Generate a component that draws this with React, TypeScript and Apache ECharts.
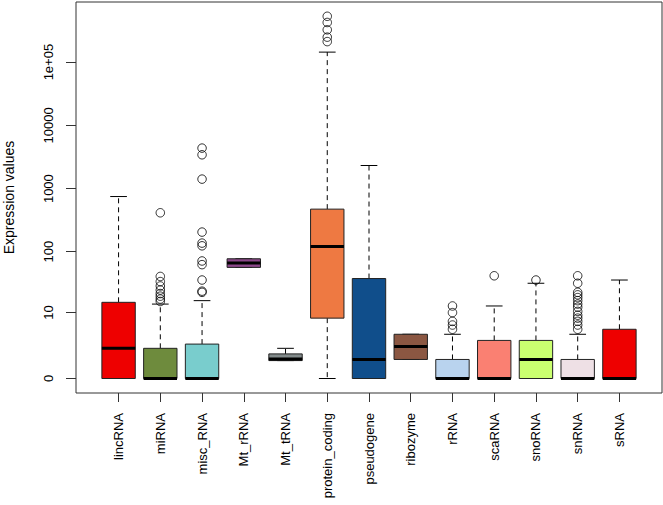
import React, { useEffect, useRef } from "react";
import * as echarts from "echarts";

// Gene biotypes (x categories)
const categories = [
  "lincRNA", "miRNA", "misc_RNA", "Mt_rRNA", "Mt_tRNA", "protein_coding",
  "pseudogene", "ribozyme", "rRNA", "scaRNA", "snoRNA", "snRNA", "sRNA",
];

// Box colours
const boxColors = [
  "#EE0000", "#6E8B3D", "#79CDCD", "#8B4789", "#838B8B", "#EE7942",
  "#104E8B", "#8B5742", "#B9D3EE", "#FA8072", "#CAFF70", "#EEE0E5", "#EE0000",
];

// Expression values: [lower whisker, Q1, median, Q3, upper whisker]
const lowWhisker = [0, 0, 0, 56, 0.92, 0, 0, 1, 0, 0, 0, 0, 0];
const q1Values = [0, 0, 0, 56, 0.92, 8, 0, 1, 0, 0, 0, 0, 0];
const medianValues = [2, 0, 0, 66, 1.03, 121, 1, 2.2, 0, 0, 1, 0, 0];
const q3Values = [15, 2, 2.5, 77, 1.45, 474, 37, 4, 1, 3, 3, 1, 5];
const highWhisker = [750, 14, 16, 77, 2, 143900, 2322, 4, 4, 13, 31, 4, 35];

// Outliers per category
const outlierValues: number[][] = [
  [],
  [15.5, 17, 19, 21, 24, 28, 33, 40, 415],
  [22, 23, 35, 62, 71, 124, 137, 205, 1415, 3430, 4375],
  [],
  [],
  [211000, 248000, 324000, 423000, 530000],
  [],
  [],
  [5, 6, 7, 10, 13],
  [41],
  [35],
  [5, 6, 7, 8, 9, 10.5, 12.4, 14, 16, 18, 20, 22, 31, 41],
  [],
];

// Y-axis ticks (expression values)
const yTickValues = [0, 10, 100, 1000, 10000, 100000];
const yTickLabels = ["0", "10", "100", "1000", "10000", "1e+05"];

const tf = (v: number) => Math.log10(v + 1);

const FONT = "'Liberation Sans', Arial, Helvetica, sans-serif";

export default function App() {
  const ref = useRef<HTMLDivElement>(null);

  useEffect(() => {
    document.body.style.margin = "0";
    if (!ref.current) return;
    const chart = echarts.init(ref.current, undefined, { renderer: "svg" });

    const boxData = categories.map((_, i) => [
      i,
      tf(lowWhisker[i]),
      tf(q1Values[i]),
      tf(medianValues[i]),
      tf(q3Values[i]),
      tf(highWhisker[i]),
    ]);
    const outlierData: number[][] = [];
    outlierValues.forEach((arr, i) => arr.forEach((v) => outlierData.push([i, tf(v)])));

    const yTicksT = yTickValues.map(tf);

    const option: any = {
      animation: false,
      backgroundColor: "#ffffff",
      textStyle: { fontFamily: FONT },
      grid: {
        left: 76,
        right: 1,
        top: 2,
        bottom: 112,
        containLabel: false,
        outerBoundsMode: "none",
        show: true,
        borderColor: "#333",
        borderWidth: 1,
        backgroundColor: "transparent",
      },
      xAxis: {
        type: "value",
        min: -1.02,
        max: 13.02,
        splitLine: { show: false },
        axisLine: { show: false, onZero: false },
        axisTick: {
          show: true,
          length: 9,
          customValues: categories.map((_, i) => i),
          lineStyle: { color: "#333" },
        },
        axisLabel: {
          customValues: categories.map((_, i) => i),
          formatter: (v: number) => categories[Math.round(v)] ?? "",
          rotate: 90,
          margin: 20,
          fontSize: 13,
          color: "#000",
          fontFamily: FONT,
        },
      },
      yAxis: {
        type: "value",
        min: -0.229,
        max: 5.95,
        name: "Expression values",
        nameLocation: "middle",
        nameRotate: 90,
        nameGap: 60,
        nameTextStyle: { fontSize: 14, color: "#000", fontFamily: FONT },
        splitLine: { show: false },
        axisLine: { show: false, onZero: false },
        axisTick: {
          show: true,
          length: 10,
          customValues: yTicksT,
          lineStyle: { color: "#333" },
        },
        axisLabel: {
          customValues: yTicksT,
          formatter: (v: number) => {
            let best = "";
            let d = Infinity;
            yTicksT.forEach((t, k) => {
              if (Math.abs(t - v) < d) {
                d = Math.abs(t - v);
                best = yTickLabels[k];
              }
            });
            return best;
          },
          rotate: 90,
          margin: 21,
          fontSize: 13,
          color: "#000",
          fontFamily: FONT,
        },
      },
      series: [
        {
          type: "custom",
          data: boxData,
          encode: { x: 0, y: [1, 2, 3, 4, 5] },
          renderItem: (params: any, api: any) => {
            const x = api.value(0);
            const low = api.coord([x, api.value(1)]);
            const q1 = api.coord([x, api.value(2)]);
            const med = api.coord([x, api.value(3)]);
            const q3 = api.coord([x, api.value(4)]);
            const high = api.coord([x, api.value(5)]);
            const w = api.size([0.8, 0])[0];
            const hw = w / 2;
            const sw = w / 4;
            const cx = low[0];
            const color = boxColors[params.dataIndex];
            const dash = { stroke: "#000", lineWidth: 1, lineDash: [5, 4] };
            const solid = { stroke: "#000", lineWidth: 1 };
            return {
              type: "group",
              children: [
                {
                  type: "line",
                  shape: { x1: cx, y1: q3[1], x2: cx, y2: high[1] },
                  style: dash,
                },
                {
                  type: "line",
                  shape: { x1: cx, y1: q1[1], x2: cx, y2: low[1] },
                  style: dash,
                },
                {
                  type: "line",
                  shape: { x1: cx - sw, y1: high[1], x2: cx + sw, y2: high[1] },
                  style: solid,
                },
                {
                  type: "line",
                  shape: { x1: cx - sw, y1: low[1], x2: cx + sw, y2: low[1] },
                  style: solid,
                },
                {
                  type: "rect",
                  shape: { x: cx - hw, y: q3[1], width: w, height: q1[1] - q3[1] },
                  style: { fill: color, stroke: "#222", lineWidth: 1 },
                },
                {
                  type: "line",
                  shape: { x1: cx - hw, y1: med[1], x2: cx + hw, y2: med[1] },
                  style: { stroke: "#000", lineWidth: 3 },
                },
              ],
            };
          },
          z: 2,
        },
        {
          type: "scatter",
          data: outlierData,
          symbol: "circle",
          symbolSize: 8.5,
          itemStyle: { color: "rgba(0,0,0,0)", borderColor: "#000", borderWidth: 1 },
          z: 3,
        },
      ],
    };
    chart.setOption(option);
    return () => chart.dispose();
  }, []);

  return <div ref={ref} style={{ width: 663, height: 505 }} />;
}
